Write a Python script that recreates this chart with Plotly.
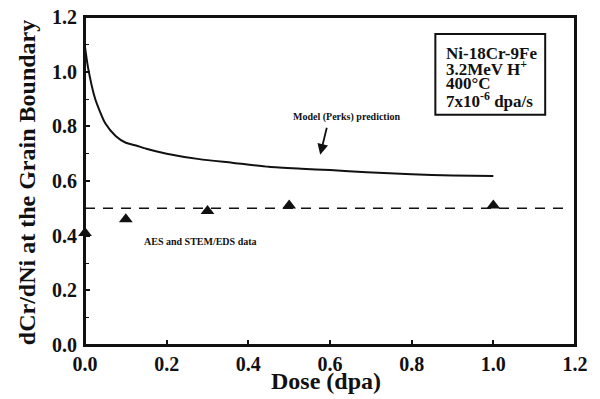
import plotly.graph_objects as go

# Model (Perks) prediction curve
model_dose = [0.0, 0.008, 0.025, 0.05, 0.075, 0.1, 0.125, 0.15, 0.2, 0.28, 0.36, 0.45, 0.53, 0.6, 0.69, 0.8, 0.9, 1.0]
model_ratio = [1.09, 1.01, 0.90, 0.81, 0.765, 0.74, 0.73, 0.718, 0.70, 0.68, 0.667, 0.652, 0.645, 0.64, 0.632, 0.625, 0.62, 0.618]

# AES and STEM/EDS data
data_dose = [0.0, 0.1, 0.3, 0.5, 1.0]
data_ratio = [0.41, 0.46, 0.49, 0.51, 0.51]

# Reference (dashed) level
ref_dose = [0.0, 1.175]
ref_ratio = [0.5, 0.5]

tick_vals = [0.0, 0.2, 0.4, 0.6, 0.8, 1.0, 1.2]
tick_text = ["0.0", "0.2", "0.4", "0.6", "0.8", "1.0", "1.2"]

box_lines = ["Ni-18Cr-9Fe", "3.2MeV H<sup>+</sup>", "400°C", "7x10<sup>-6</sup> dpa/s"]

FONT = "Liberation Serif"
BLACK = "#111111"

fig = go.Figure()
fig.add_trace(go.Scatter(x=ref_dose, y=ref_ratio, mode="lines",
                         line=dict(color=BLACK, width=1.5, dash="10px,8px"),
                         showlegend=False, hoverinfo="skip"))
fig.add_trace(go.Scatter(x=model_dose, y=model_ratio, mode="lines",
                         line=dict(color=BLACK, width=2, shape="spline", smoothing=0.6),
                         showlegend=False))
fig.add_trace(go.Scatter(x=data_dose, y=data_ratio, mode="markers",
                         marker=dict(symbol="triangle-up", size=12, color=BLACK),
                         showlegend=False, cliponaxis=False))

axis_common = dict(
    range=[0, 1.2], showgrid=False, zeroline=False, showline=True, mirror=True,
    linecolor=BLACK, linewidth=2, ticks="inside", ticklen=5, tickwidth=1.5,
    tickcolor=BLACK, tickvals=tick_vals, ticktext=tick_text, automargin=False,
    ticklabeloverflow="allow",
    tickfont=dict(family=FONT, size=20, color=BLACK, weight="bold"),
)

# The page body adds an 8px offset, so the figure is sized to fit the 600x399 window.
fig.update_layout(
    width=592, height=391,
    margin=dict(l=77, r=25, t=9, b=54),
    paper_bgcolor="white", plot_bgcolor="white",
    xaxis=dict(**axis_common, ticklabelstandoff=0),
    yaxis=dict(**axis_common, ticklabelstandoff=2,
               minor=dict(ticks="inside", ticklen=4, tickwidth=1.2, tickcolor=BLACK, dtick=0.1, showgrid=False)),
)

# Plot frame
fig.add_shape(type="rect", xref="paper", yref="paper", x0=0, x1=1, y0=0, y1=1,
              line=dict(color=BLACK, width=2), fillcolor="rgba(0,0,0,0)", layer="above")

# Axis titles
fig.add_annotation(x=0.492, y=-0.11, xref="paper", yref="paper", text="Dose (dpa)",
                   showarrow=False, xanchor="center", yanchor="middle",
                   font=dict(family=FONT, size=24, color=BLACK, weight="bold"))
fig.add_annotation(x=-0.118, y=0.494, xref="paper", yref="paper",
                   text="dCr/dNi at the Grain Boundary", textangle=-90,
                   showarrow=False, xanchor="center", yanchor="middle",
                   font=dict(family=FONT, size=24, color=BLACK, weight="bold"))

# Condition box
fig.add_shape(type="rect", xref="x", yref="y", x0=0.858, x1=1.127, y0=0.842, y1=1.138,
              line=dict(color=BLACK, width=2), fillcolor="white")
box_y = [1.068, 1.013, 0.955, 0.895]
for txt, yy in zip(box_lines, box_y):
    fig.add_annotation(x=0.878, y=yy, xref="x", yref="y", text=txt, showarrow=False,
                       xanchor="left", yanchor="middle",
                       font=dict(family=FONT, size=17, color=BLACK, weight="bold"))

fig.add_annotation(x=0.64, y=0.835, xref="x", yref="y", text="Model (Perks) prediction",
                   showarrow=False, xanchor="center",
                   font=dict(family=FONT, size=10, color=BLACK, weight="bold"))
fig.add_annotation(x=0.576, y=0.696, ax=0.593, ay=0.80, xref="x", yref="y",
                   axref="x", ayref="y", text="", showarrow=True, arrowhead=2,
                   arrowsize=1.2, arrowwidth=1.8, arrowcolor=BLACK)
fig.add_annotation(x=0.282, y=0.38, xref="x", yref="y", text="AES and STEM/EDS data",
                   showarrow=False, xanchor="center",
                   font=dict(family=FONT, size=10, color=BLACK, weight="bold"))

fig.write_html("out.html")
